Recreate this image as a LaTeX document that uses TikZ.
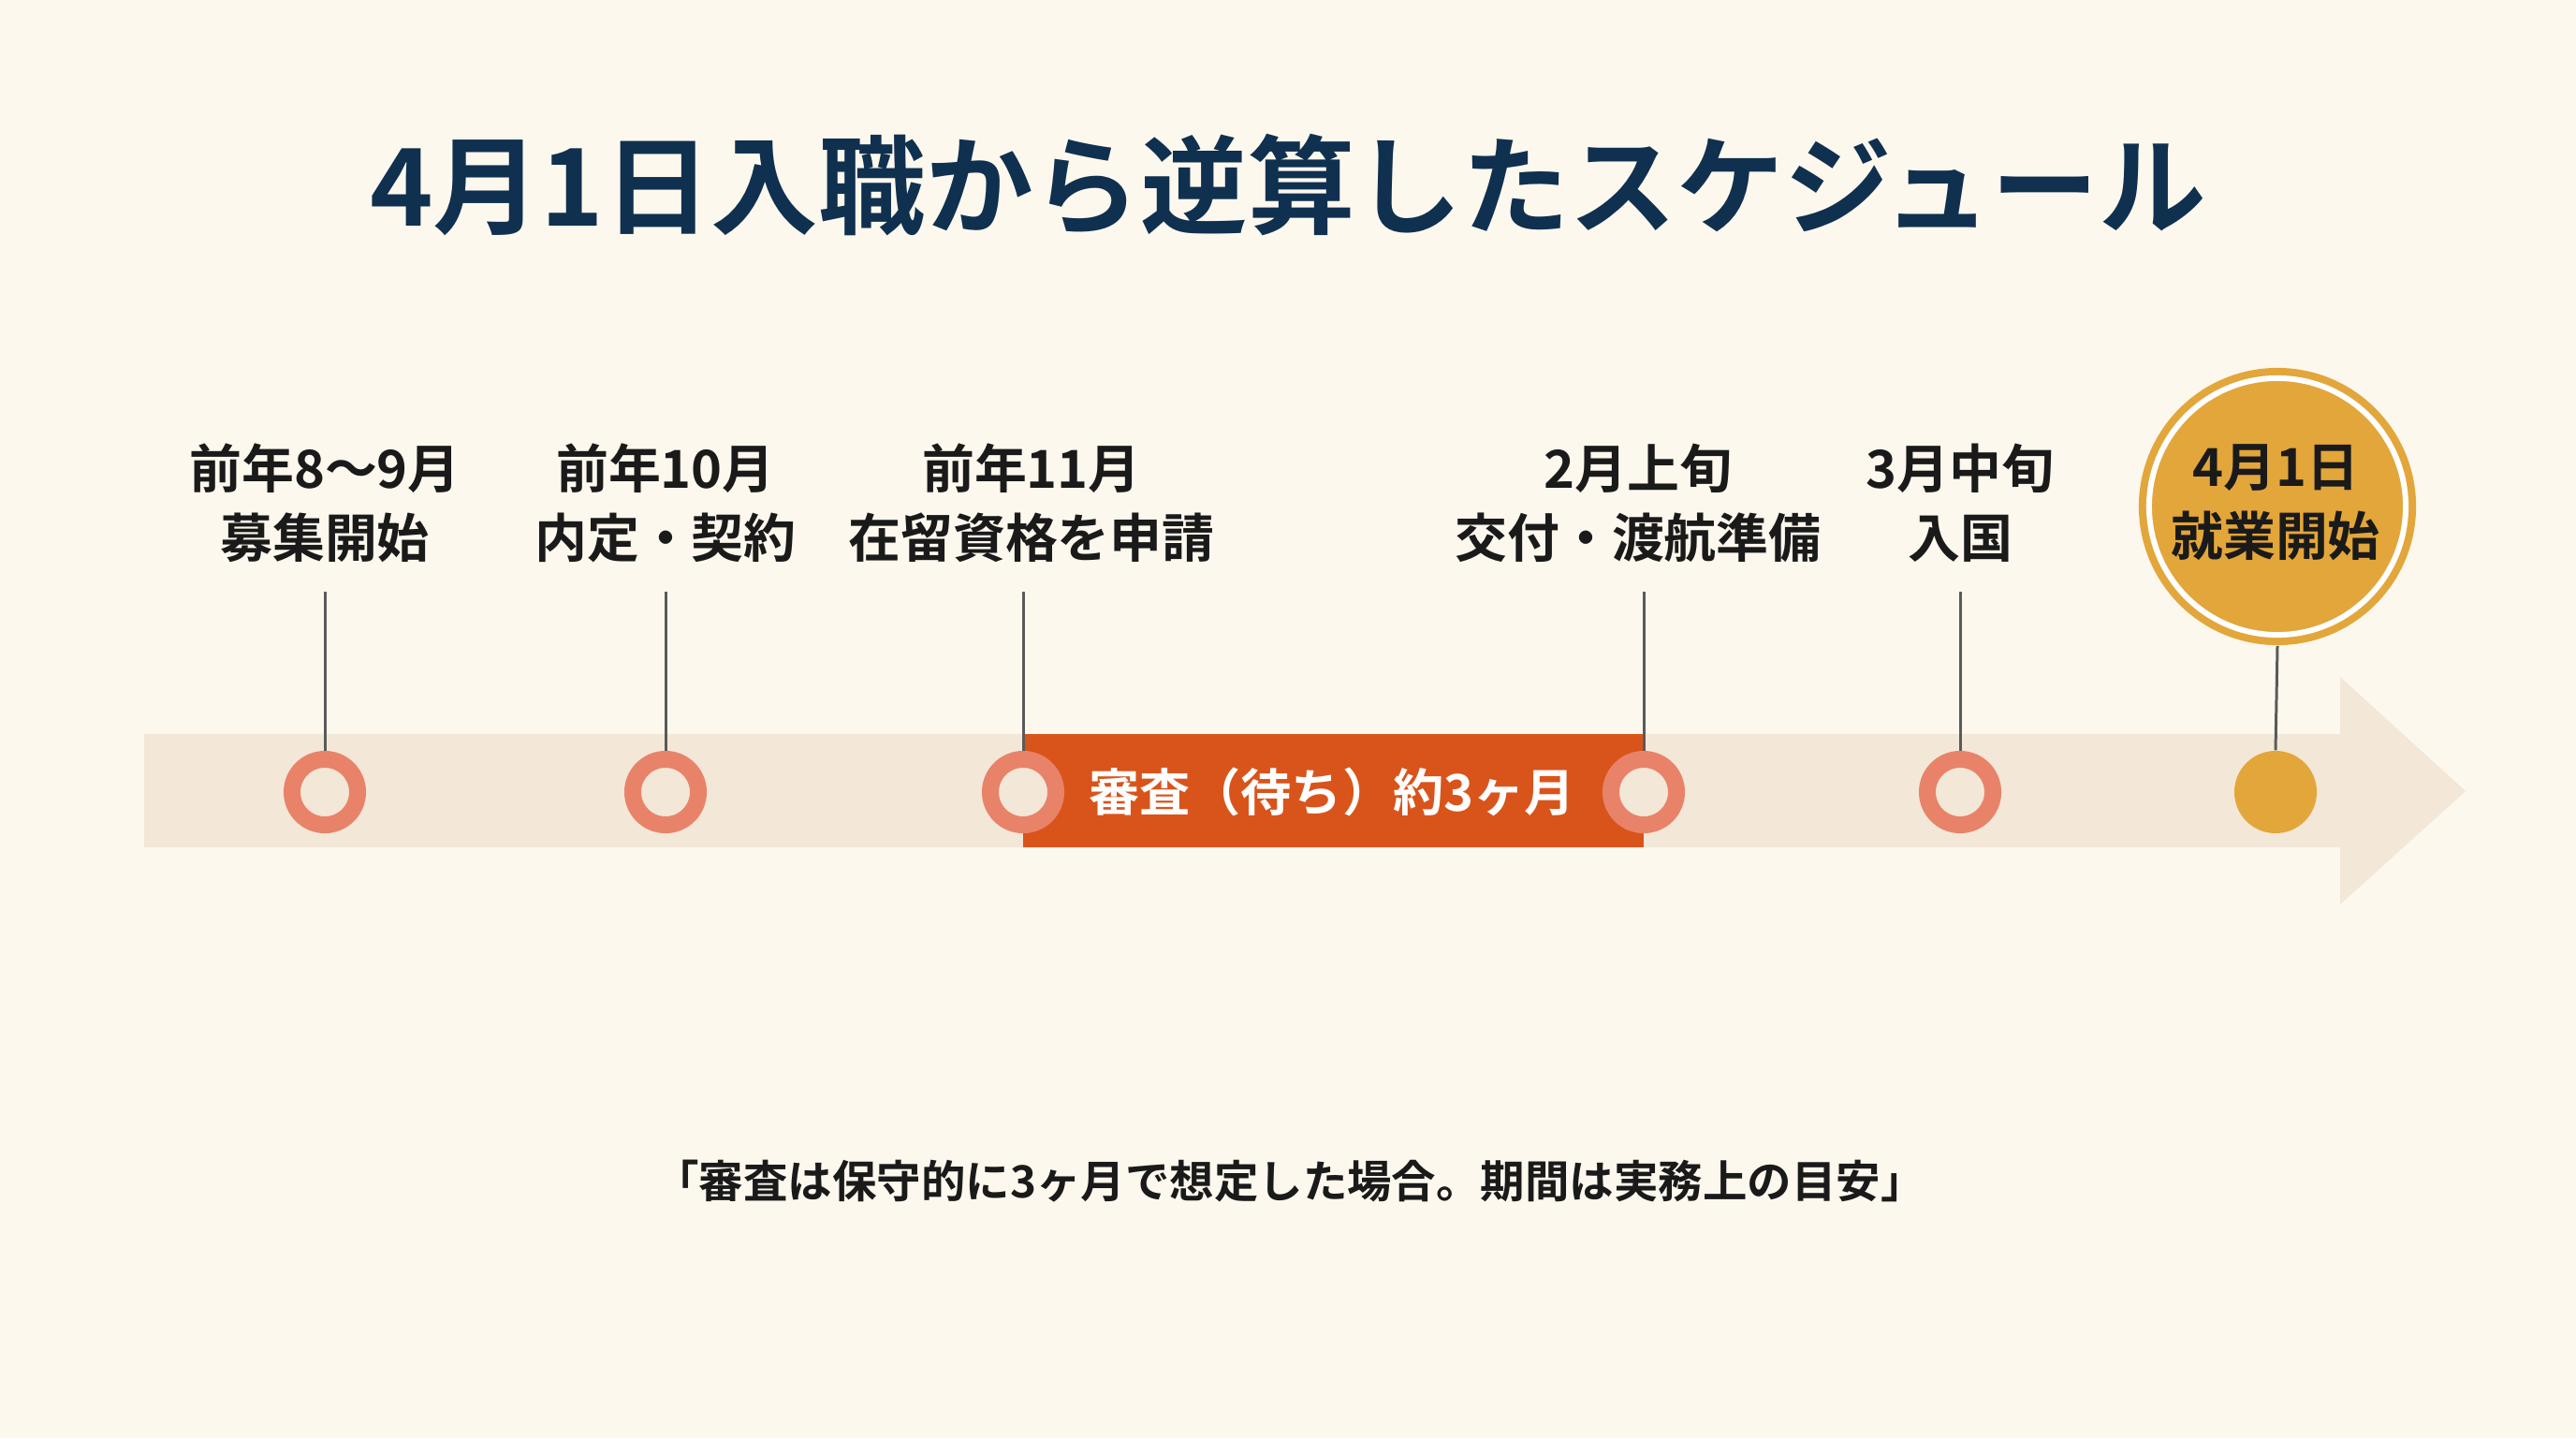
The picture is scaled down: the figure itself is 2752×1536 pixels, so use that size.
\documentclass[tikz,border=0pt]{standalone}
\usepackage{fontspec}
\setmainfont{Noto Sans CJK JP}[BoldFont={Noto Sans CJK JP Bold}]
\definecolor{bg}{HTML}{FDF8EE}
\definecolor{barcol}{HTML}{F3E7D7}
\definecolor{orng}{HTML}{D9541A}
\definecolor{salmon}{HTML}{E8836A}
\definecolor{gold}{HTML}{E3A63A}
\definecolor{navy}{HTML}{10304F}
\definecolor{ink}{HTML}{1A1A1A}
\definecolor{stem}{HTML}{5A5A5A}
\tikzset{
  ring/.style={circle, draw=salmon, line width=0.18cm, fill=barcol, minimum size=0.7cm, inner sep=0pt},
  golddot/.style={circle, fill=gold, minimum size=0.88cm, inner sep=0pt},
  lbl/.style={text=ink, align=center, font=\bfseries\fontsize{15.9}{21}\selectfont, inner sep=0pt},
  stemline/.style={draw=stem, line width=0.85pt},
}
\begin{document}
\begin{tikzpicture}[x=0.01cm, y=-0.01cm]
\fill[bg] (0,0) rectangle (2752,1536);
\useasboundingbox (0,0) rectangle (2752,1536);
% title
\node[text=navy, font=\bfseries\fontsize{32.6}{38}\selectfont, inner sep=0pt] (title) at (1376,198) {4月1日入職から逆算したスケジュール};
% bar arrow
\fill[barcol] (154,784) -- (2500,784) -- (2500,723) -- (2634,845) -- (2500,966) -- (2500,905) -- (154,905) -- cycle;
\fill[orng] (1093,784) rectangle (1756,905);
\node[text=white, font=\bfseries\fontsize{15.4}{18}\selectfont, inner sep=0pt] (review) at (1423,846) {審査（待ち）約3ヶ月};
% stems top coordinates
\coordinate (t1) at (347,632);
\coordinate (t2) at (711,632);
\coordinate (t3) at (1093,632);
\coordinate (t4) at (1756,632);
\coordinate (t5) at (2094,632);
% circles
\node[ring] (c1) at (347,846) {};
\node[ring] (c2) at (711,846) {};
\node[ring] (c3) at (1093,846) {};
\node[ring] (c4) at (1756,846) {};
\node[ring] (c5) at (2094,846) {};
\node[golddot] (c6) at (2431,846) {};
\draw[stemline] (t1) -- (c1.north);
\draw[stemline] (t2) -- (c2.north);
\draw[stemline] (t3) -- (c3.north);
\draw[stemline] (t4) -- (c4.north);
\draw[stemline] (t5) -- (c5.north);
% gold big circle
\node[circle, fill=gold, minimum size=2.96cm, inner sep=0pt] (g) at (2433,541) {};
\draw[white, line width=0.06cm] (g.center) circle (1.37cm);
\draw[stemline] (g.south) -- (c6.north);
% labels
\node[lbl] (l1) at (347,537) {前年8〜9月\\募集開始};
\node[lbl] (l2) at (711,537) {前年10月\\内定・契約};
\node[lbl] (l3) at (1102,537) {前年11月\\在留資格を申請};
\node[lbl] (l4) at (1750,537) {2月上旬\\交付・渡航準備};
\node[lbl] (l5) at (2094,537) {3月中旬\\入国};
\node[lbl, text=ink] (l6) at (2431,537) {4月1日\\就業開始};
% note
\node[text=ink, font=\bfseries\fontsize{13.5}{16}\selectfont, inner sep=0pt] (note) at (1378,1262) {「審査は保守的に3ヶ月で想定した場合。期間は実務上の目安」};
\end{tikzpicture}
\end{document}
